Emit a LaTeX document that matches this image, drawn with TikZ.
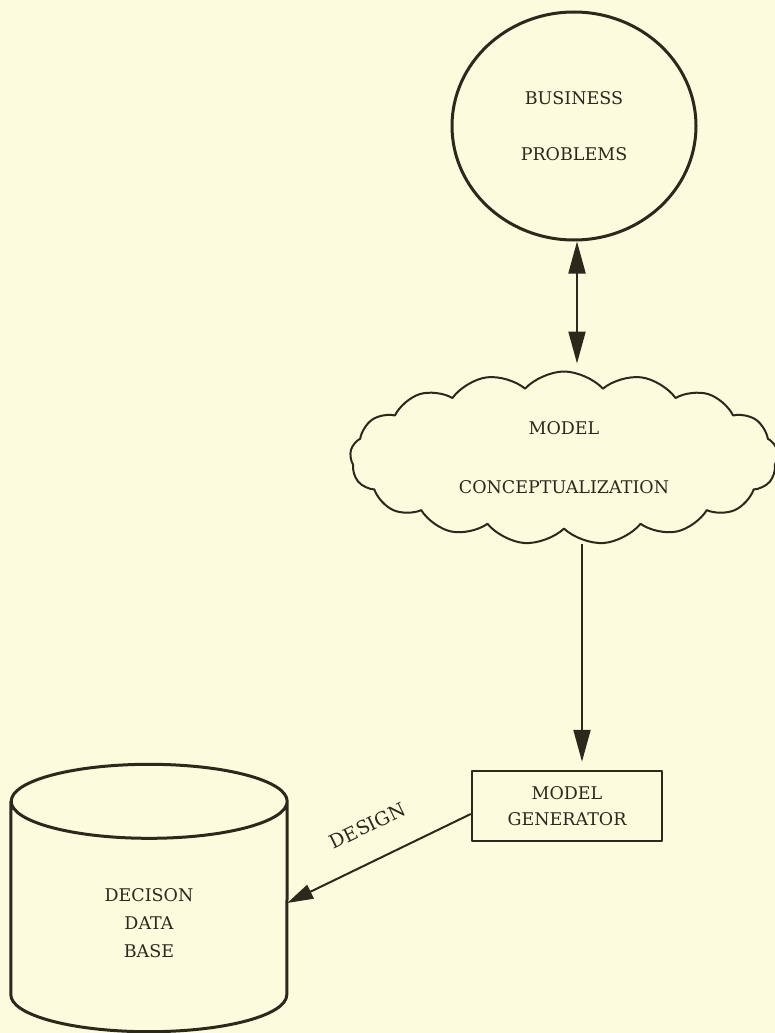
\documentclass[tikz,border=0pt]{standalone}
\usepackage{fontspec}
\setmainfont{DejaVu Serif}
\usetikzlibrary{shapes.geometric,shapes.symbols,arrows.meta}
\definecolor{inkbrown}{RGB}{45,40,28}
\definecolor{paper}{RGB}{252,251,222}
\tikzset{
  lbl/.style={font=\fontsize{17.5}{22}\selectfont, text=inkbrown, align=center},
  bigtip/.tip={Triangle[length=32pt,width=17pt]},
  link/.style={draw=inkbrown, line width=2pt, -bigtip},
}

\begin{document}
\begin{tikzpicture}[x=1pt,y=-1pt,line join=round]
  \fill[paper] (0,0) rectangle (775,1033);
  \useasboundingbox (0,0) rectangle (775,1033);

  %business problems circle
  \node[draw=inkbrown,line width=3pt,ellipse,minimum width=244pt,minimum height=228pt,lbl] (bp) at (574,126) {BUSINESS\\[34pt]PROBLEMS};

  %model conceptualization cloud
  \node[draw=inkbrown,line width=2pt,cloud,cloud puffs=17,cloud puff arc=95,aspect=2.5,minimum width=428pt,minimum height=173pt,lbl] (mc) at (564,458) {MODEL\\[37pt]CONCEPTUALIZATION};

  %model generator box
  \node[draw=inkbrown,line width=2.5pt,minimum width=190pt,minimum height=70pt,lbl,font=\fontsize{17.5}{26}\selectfont] (mg) at (567,806) {MODEL\\GENERATOR};

  %decision data base
  \node[minimum width=276pt,minimum height=193pt,inner sep=0pt] (db) at (149,898) {};
  \draw[inkbrown,line width=3pt] (db.north west) -- (db.south west)
    arc[start angle=180,end angle=360,x radius=138pt,y radius=37pt] -- (db.north east)
    arc[start angle=0,end angle=180,x radius=138pt,y radius=37pt]
    arc[start angle=180,end angle=360,x radius=138pt,y radius=37pt];
  \node[lbl,font=\fontsize{17.5}{28}\selectfont] (dbtext) at (149,923) {DECISON\\DATA\\BASE};

  %connectors
  \coordinate (upx) at (577,0);
  \coordinate (downx) at (582,0);
  \draw[link,bigtip-bigtip,shorten >=7pt] (bp.south -| upx) -- (mc.north -| upx);
  \draw[link,shorten <=14pt,shorten >=8pt] (mc.south -| downx) -- (mg.north -| downx);
  \draw[link,-{Triangle[length=26pt,width=15pt]}] ([yshift=-8pt]mg.west) -- ([yshift=-5pt]db.east) node[pos=0.48,sloped,above=23pt,lbl,font=\fontsize{19}{22}\selectfont] {DESIGN};
\end{tikzpicture}
\end{document}
